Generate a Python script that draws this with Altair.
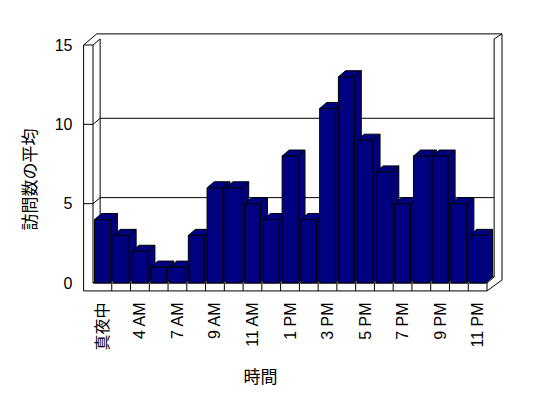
import json
import altair as alt
import pandas as pd

# ---- data ----
hours = ["真夜中", "1 AM", "4 AM", "5 AM", "7 AM", "8 AM", "9 AM", "10 AM", "11 AM", "正午",
         "1 PM", "2 PM", "3 PM", "4 PM", "5 PM", "6 PM", "7 PM", "8 PM", "9 PM", "10 PM", "11 PM"]
visits = [4, 3, 2, 1, 1, 3, 6, 6, 5, 4, 8, 4, 11, 13, 9, 7, 5, 8, 8, 5, 3]
y_ticks = [0, 5, 10, 15]
y_title = "訪問数の平均"
x_title = "時間"

# ---- geometry / style ----
N = len(hours)
YMAX = 15
DX, DY = 0.38, 0.38          # 3D depth offset in data units
B0, B1 = 0.08, 0.92          # bar front edges inside each slot
NAVY = "#000080"
W, H = 394, 238
FONT = "'Liberation Sans', 'Noto Sans CJK JP', sans-serif"
CJK = "'Noto Sans CJK JP', sans-serif"

front = pd.DataFrame({
    "hour": hours, "v": visits,
    "x0": [i + B0 for i in range(N)],
    "x1": [i + B1 for i in range(N)],
    "y0": [0] * N,
})

side_rows, top_rows = [], []
for i, v in enumerate(visits):
    side_rows.append({"bar": i, "x": i + B1, "y": v, "y2": 0})
    side_rows.append({"bar": i, "x": i + B1 + DX, "y": v + DY, "y2": DY})
    top_rows.append({"bar": i, "y": v, "x": i + B0, "x2": i + B1})
    top_rows.append({"bar": i, "y": v + DY, "x": i + B0 + DX, "x2": i + B1 + DX})
side = pd.DataFrame(side_rows)
top = pd.DataFrame(top_rows)

# frame segments (walls, gridlines, floor) in data units
OX, OY = 21.8, 15.7
segs = [
    (-0.5, -0.5, -0.5, YMAX),
    (0, 0, 0, YMAX),
    (-0.5, YMAX, 0, YMAX),
    (-0.5, YMAX, 0.2, OY),
    (0.2, OY, OX, OY),
    (0, YMAX, DX, YMAX + DY),
    (DX, DY, DX, YMAX + DY),
    (N + DX, DY, N + DX, YMAX + DY),
    (N + DX, YMAX + DY, OX, OY),
    (OX, OY, OX, 0.19),
    (OX, 0.19, N, -0.5),
    (N + DX, DY, N, 0),
    (0, 0, N, 0),
    (-0.5, -0.5, N, -0.5),
]
for t in y_ticks[:-1]:
    segs.append((0, t, DX, t + DY))
    segs.append((DX, t + DY, N + DX, t + DY))
    if t > 0:
        segs.append((-0.5, t, 0, t))
for k in range(1, N + 1):
    segs.append((k, -0.5, k, 0))
frame = pd.DataFrame(segs, columns=["x", "y", "x2", "y2"])

XS = alt.Scale(domain=[0, N], nice=False, zero=False)
YS = alt.Scale(domain=[0, YMAX], nice=False, zero=False)

label_expr = json.dumps(hours, ensure_ascii=False) + "[floor(datum.value)]"
XA = alt.Axis(values=[i + 0.5 for i in range(0, N, 2)], labelExpr=label_expr,
              labelAngle=270, labelAlign="right", labelBaseline="middle",
              ticks=False, domain=False, grid=False, labelPadding=19,
              labelFont=FONT, labelFontSize=16, labelColor="black",
              title=x_title, titleFont=CJK, titleFontSize=17, titleFontWeight="normal",
              titleColor="black", titleAngle=0, titleAlign="center", titleBaseline="middle",
              titleX=167, titleY=94, labelOverlap=False, labelFlush=False)
YA = alt.Axis(values=y_ticks, ticks=False, domain=False, grid=False, labelPadding=21,
              labelFont=FONT, labelFontSize=16, labelColor="black",
              title=y_title, titleFont=CJK, titleFontSize=17, titleFontWeight="normal",
              titleColor="black", titleAngle=270, titleAlign="center", titleBaseline="middle",
              titleX=-63, titleY=134)

frame_layer = alt.Chart(frame).mark_rule(color="black", strokeWidth=1).encode(
    x=alt.X("x:Q", scale=XS, axis=XA), x2="x2:Q",
    y=alt.Y("y:Q", scale=YS, axis=YA), y2="y2:Q",
)

side_layer = alt.Chart(side).mark_area(fill=NAVY, stroke="black", strokeWidth=1,
                                        opacity=1, fillOpacity=1).encode(
    x=alt.X("x:Q", scale=XS, axis=XA),
    y=alt.Y("y:Q", scale=YS, axis=YA), y2="y2:Q",
    detail="bar:N",
)

top_layer = alt.Chart(top).mark_area(orient="horizontal", fill=NAVY, stroke="black",
                                      strokeWidth=1, fillOpacity=1).encode(
    y=alt.Y("y:Q", scale=YS, axis=YA),
    x=alt.X("x:Q", scale=XS, axis=XA), x2="x2:Q",
    detail="bar:N",
)

front_layer = alt.Chart(front).mark_rect(fill=NAVY, stroke="black", strokeWidth=1).encode(
    x=alt.X("x0:Q", scale=XS, axis=XA), x2="x1:Q",
    y=alt.Y("v:Q", scale=YS, axis=YA), y2="y0:Q",
)

chart = alt.layer(frame_layer, side_layer, top_layer, front_layer).properties(
    width=W, height=H,
    autosize=alt.AutoSizeParams(type="none"),
    padding={"left": 85, "top": 37, "right": 53, "bottom": 107},
    background="white",
).configure_view(stroke=None)

chart.save("out.html", embed_options={"renderer": "svg", "actions": False})
